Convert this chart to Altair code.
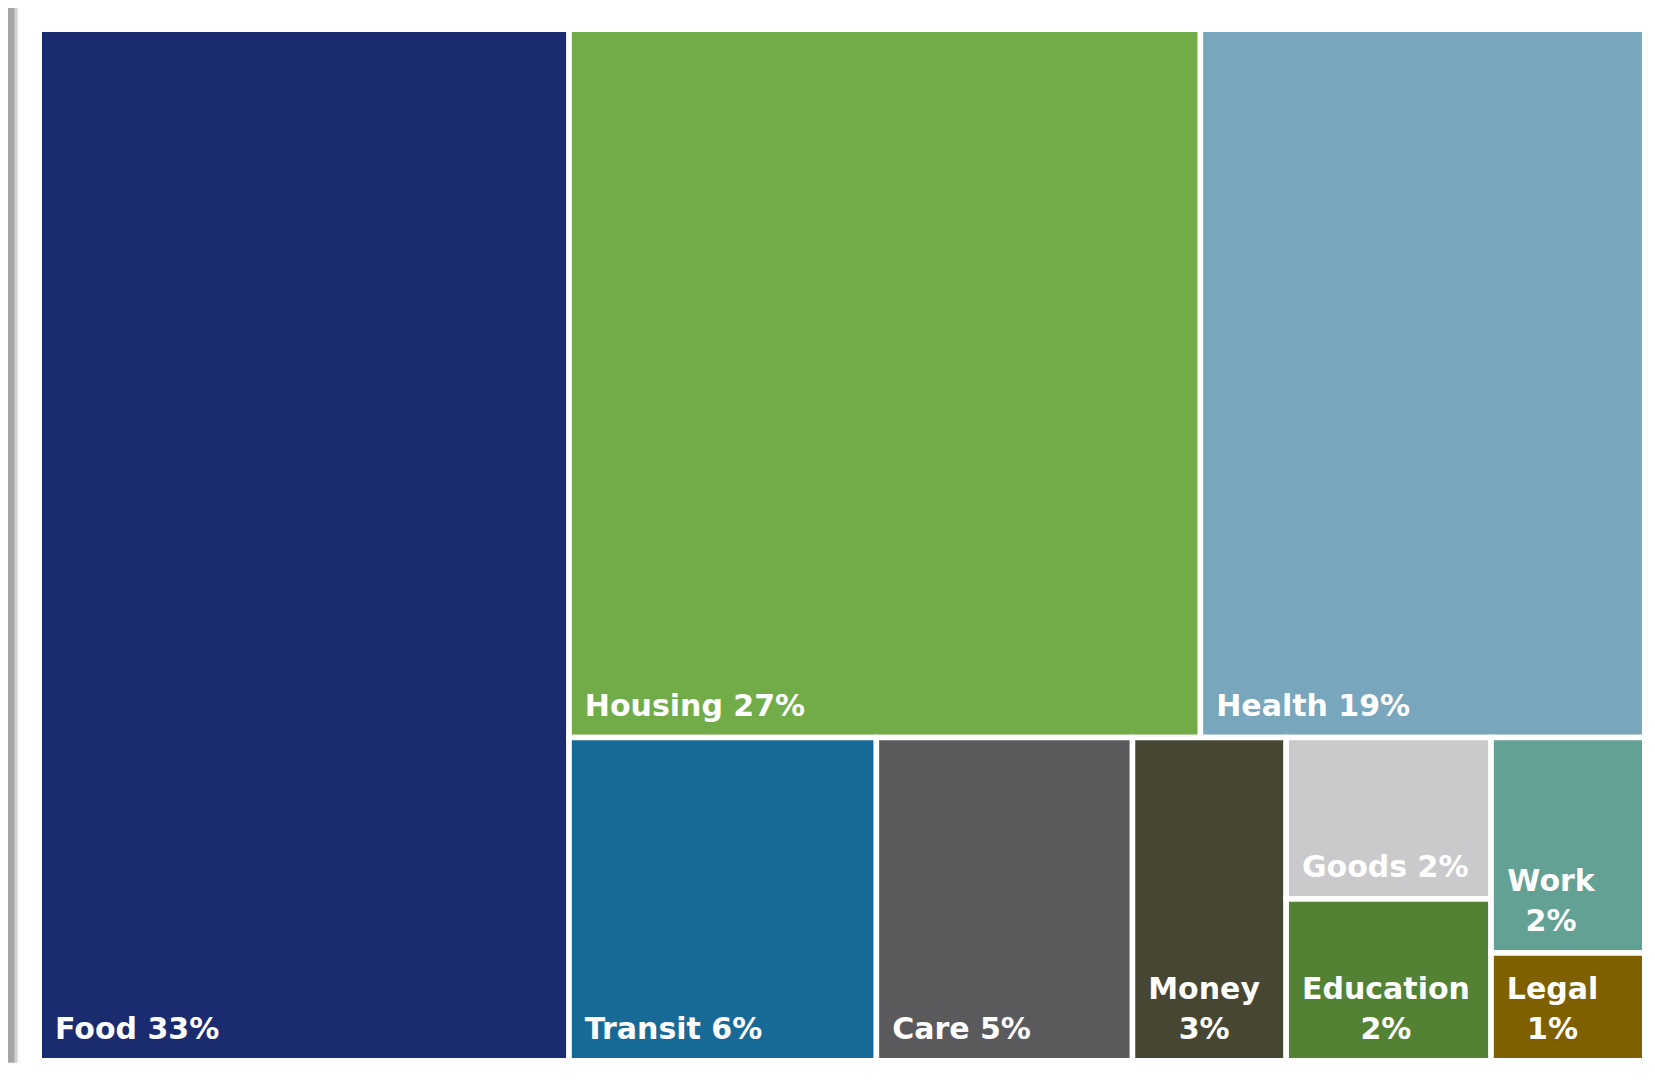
import altair as alt
import pandas as pd

# ---- data -------------------------------------------------------------
names = ["Food", "Housing", "Health", "Transit", "Care", "Money",
         "Goods", "Education", "Work", "Legal"]
values = [33, 27, 19, 6, 5, 3, 2, 2, 2, 1]
colors = ["#1B2B6F", "#71AC48", "#78A6BD", "#186A96", "#5A5A5C", "#474633",
          "#CACACC", "#548235", "#63A195", "#7F6000"]

# nesting of the treemap: "h" = children side by side, "v" = stacked
tree = ("h", ["Food",
              ("v", [("h", ["Housing", "Health"]),
                     ("h", ["Transit", "Care", "Money",
                            ("v", ["Goods", "Education"]),
                            ("v", ["Work", "Legal"])])])])

# ---- layout / style ---------------------------------------------------
W, H = 1605.5, 1031.5
GAP = 5.5
PAD_X, PAD_Y, LINE = 13, 19, 40
FONT = 30

val = dict(zip(names, values))


def total(node):
    return val[node] if isinstance(node, str) else sum(total(c) for c in node[1])


rects = []


def layout(node, x0, y0, x1, y1):
    if isinstance(node, str):
        rects.append(dict(name=node, value=val[node], x0=x0, x1=x1, y0=y0, y1=y1))
        return
    kind, kids = node
    t = total(node)
    pos = x0 if kind == "h" else y0
    for k in kids:
        f = total(k) / t
        if kind == "h":
            w = (x1 - x0) * f
            layout(k, pos, y0, pos + w, y1)
            pos += w
        else:
            h = (y1 - y0) * f
            layout(k, x0, pos, x1, pos + h)
            pos += h


layout(tree, 0, 0, W, H)
rect_df = pd.DataFrame(rects)

# approximate advance widths (em) of DejaVu Sans Bold
CW = {" ": .348, "%": 1.002, "a": .675, "c": .593, "d": .716, "e": .678,
      "g": .716, "h": .712, "i": .343, "k": .665, "l": .343, "n": .712,
      "o": .687, "r": .493, "s": .595, "t": .478, "u": .712, "y": .652,
      "C": .734, "E": .683, "F": .683, "G": .821, "H": .837, "L": .637,
      "M": .995, "T": .682, "W": 1.103}


def tw(s):
    return sum(CW.get(c, .696) for c in s) * FONT


single, multi = [], []
for r in rects:
    vx0, vx1 = r["x0"] + GAP / 2, r["x1"] - GAP / 2
    vy1 = r["y1"] - GAP / 2
    label = f'{r["name"]} {r["value"]}%'
    if tw(label) + 2 * PAD_X <= vx1 - vx0:
        single.append(dict(text=label, x=vx0 + PAD_X, y=vy1 - PAD_Y))
    else:
        lines = [r["name"], f'{r["value"]}%']
        bw = max(tw(s) for s in lines)
        n = len(lines)
        for i, s in enumerate(lines):
            multi.append(dict(text=s, x=vx0 + PAD_X + bw / 2,
                              y=vy1 - PAD_Y - (n - 1 - i) * LINE))

single_df = pd.DataFrame(single)
multi_df = pd.DataFrame(multi)

xs = alt.Scale(domain=[0, W], nice=False, zero=False)
ys = alt.Scale(domain=[0, H], nice=False, zero=False, reverse=True)

boxes = alt.Chart(rect_df).mark_rect(stroke="white", strokeWidth=GAP).encode(
    x=alt.X("x0:Q", scale=xs, axis=None),
    x2="x1:Q",
    y=alt.Y("y0:Q", scale=ys, axis=None),
    y2="y1:Q",
    color=alt.Color("name:N", scale=alt.Scale(domain=names, range=colors), legend=None),
)

txt_style = dict(font="DejaVu Sans", fontWeight="bold", fontSize=FONT,
                 color="white", baseline="alphabetic")

t_single = alt.Chart(single_df).mark_text(align="left", **txt_style).encode(
    x=alt.X("x:Q", scale=xs, axis=None),
    y=alt.Y("y:Q", scale=ys, axis=None),
    text="text:N",
)
t_multi = alt.Chart(multi_df).mark_text(align="center", **txt_style).encode(
    x=alt.X("x:Q", scale=xs, axis=None),
    y=alt.Y("y:Q", scale=ys, axis=None),
    text="text:N",
)

# window frame on the left edge (decoration)
frame_df = pd.DataFrame({"k": [0]})
frame = alt.Chart(frame_df).mark_rect(color="#a6a6a6").encode(
    x=alt.value(-31.25), x2=alt.value(-24.5),
    y=alt.value(-21.25), y2=alt.value(H + 2))
frame2 = alt.Chart(frame_df).mark_rect(color="#cfcfcf").encode(
    x=alt.value(-24.5), x2=alt.value(-22.25),
    y=alt.value(-21.25), y2=alt.value(H + 2))
frame3 = alt.Chart(frame_df).mark_rect(color="#ececec").encode(
    x=alt.value(-22.25), x2=alt.value(-20.5),
    y=alt.value(-21.25), y2=alt.value(H + 2))

chart = alt.layer(frame, frame2, frame3, boxes, t_single, t_multi).properties(
    width=W, height=H,
    padding={"left": 31.25, "top": 21.25, "right": 2, "bottom": 2},
    autosize="none",
    background="white",
).configure_view(strokeWidth=0)

chart.save("out.html", embed_options={"renderer": "svg", "actions": False})
